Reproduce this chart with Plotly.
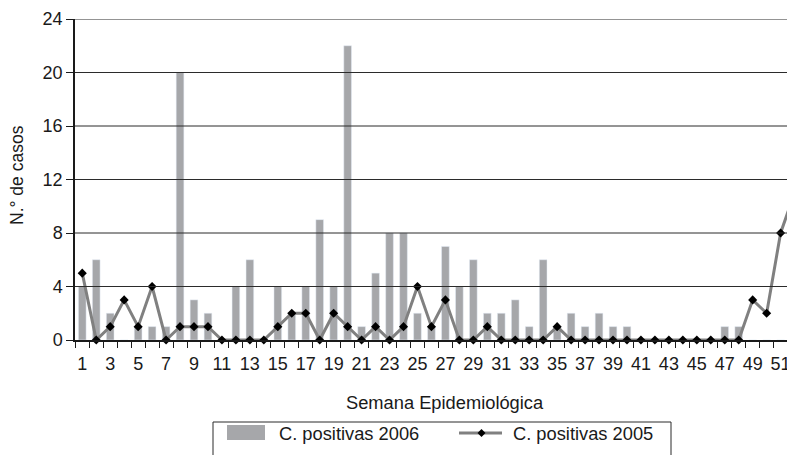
import plotly.graph_objects as go

weeks = list(range(1, 53))
pos_2006 = [4, 6, 2, 0, 1, 1, 1, 20, 3, 2, 0, 4, 6, 0, 4, 2, 4, 9, 4, 22,
            1, 5, 8, 8, 2, 1, 7, 4, 6, 2, 2, 3, 1, 6, 1, 2, 1, 2, 1, 1,
            0, 0, 0, 0, 0, 0, 1, 1, 0, 0, 0, 0]
pos_2005 = [5, 0, 1, 3, 1, 4, 0, 1, 1, 1, 0, 0, 0, 0, 1, 2, 2, 0, 2, 1,
            0, 1, 0, 1, 4, 1, 3, 0, 0, 1, 0, 0, 0, 0, 1, 0, 0, 0, 0, 0,
            0, 0, 0, 0, 0, 0, 0, 0, 3, 2, 8, 11]
x_ticks = [w for w in weeks if w % 2 == 1]
y_ticks = [0, 4, 8, 12, 16, 20, 24]
name_2006 = "C. positivas 2006"
name_2005 = "C. positivas 2005"
x_title = "Semana Epidemiológica"
y_title = "N.° de casos"

BAR = "#a6a7aa"
LINE = "#808080"
TXT = "#1a1a1a"
FONT = "Liberation Sans, Arial, sans-serif"

fig = go.Figure()
fig.add_trace(go.Bar(x=weeks, y=pos_2006, name=name_2006, marker_color=BAR,
                     width=0.55, showlegend=False))
fig.add_trace(go.Scatter(x=weeks, y=pos_2005, name=name_2005, mode="lines+markers",
                         line=dict(color=LINE, width=3),
                         marker=dict(symbol="diamond", size=7, color="black"),
                         cliponaxis=False, showlegend=False))

# page has an 8px body margin; figure placed so the plot area matches the window
OFF = 8
W, H = 795 - OFF, 455 - OFF
PL, PR, PT, PB = 75, 795, 19, 340      # plot area in page pixels
L, T = PL - OFF, PT - OFF
R = (OFF + W) - PR
B = (OFF + H) - PB
pw, ph = PR - PL, PB - PT

def px(x):
    return (x - PL) / pw

def py(y):
    return (PB - y) / ph

shapes = []
for v in y_ticks[1:]:
    shapes.append(dict(type="line", xref="paper", yref="y", x0=0, x1=1, y0=v, y1=v,
                       line=dict(color="#2b2b2b", width=1), layer="above"))

# custom legend
shapes.append(dict(type="rect", xref="paper", yref="paper",
                   x0=px(213), x1=px(671), y0=py(470), y1=py(422),
                   line=dict(color="#2b2b2b", width=1), layer="above"))
shapes.append(dict(type="rect", xref="paper", yref="paper",
                   x0=px(227), x1=px(265), y0=py(440), y1=py(425),
                   fillcolor=BAR, line=dict(width=0), layer="above"))
shapes.append(dict(type="line", xref="paper", yref="paper",
                   x0=px(459), x1=px(502), y0=py(433), y1=py(433),
                   line=dict(color=LINE, width=3), layer="above"))
cx, cy, d = 481.5, 433, 4
shapes.append(dict(type="path", xref="paper", yref="paper",
                   path=f"M {px(cx-d)},{py(cy)} L {px(cx)},{py(cy-d)} L {px(cx+d)},{py(cy)} L {px(cx)},{py(cy+d)} Z",
                   fillcolor="black", line=dict(width=0), layer="above"))

annotations = [
    dict(text=x_title, xref="paper", yref="paper", x=px(445), y=py(402),
         xanchor="center", yanchor="middle",
         showarrow=False, font=dict(size=18.3, color=TXT)),
    dict(text=y_title, xref="paper", yref="paper", x=px(17), y=py(175),
         xanchor="center", yanchor="middle",
         textangle=-90, showarrow=False, font=dict(size=17.5, color=TXT)),
    dict(text=name_2006, xref="paper", yref="paper", x=px(277), y=py(433),
         xanchor="left", yanchor="middle", showarrow=False, font=dict(size=18.3, color=TXT)),
    dict(text=name_2005, xref="paper", yref="paper", x=px(511), y=py(433),
         xanchor="left", yanchor="middle", showarrow=False, font=dict(size=18.3, color=TXT)),
]

fig.update_layout(
    width=W, height=H,
    margin=dict(l=L, r=R, t=T, b=B, autoexpand=False),
    paper_bgcolor="white", plot_bgcolor="white",
    font=dict(family=FONT, size=18, color=TXT),
    shapes=shapes, annotations=annotations,
    showlegend=False,
    xaxis=dict(range=[0.48, 52.03], tickmode="array", tickvals=x_ticks,
               ticktext=[str(v) for v in x_ticks], ticks="", showgrid=False,
               zeroline=False, showline=True, linecolor=TXT, linewidth=1.5,
               ticklabelstandoff=7, automargin=False,
               minor=dict(tickmode="linear", tick0=0.5, dtick=1, ticks="outside",
                          ticklen=6, tickcolor=TXT, tickwidth=1.2, showgrid=False)),
    yaxis=dict(range=[0, 24], tickmode="array", tickvals=y_ticks, showgrid=False,
               zeroline=False, showline=True, linecolor=TXT, linewidth=1.5,
               ticks="outside", ticklen=7, tickcolor=TXT, tickwidth=1.2,
               automargin=False),
    bargap=0.45,
)

fig.write_html("out.html")
